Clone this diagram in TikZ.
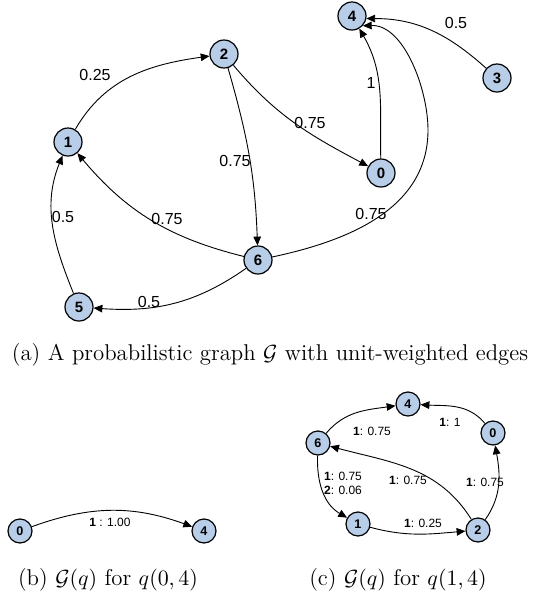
\documentclass[tikz,border=0pt]{standalone}
\usepackage{fontspec}
\newfontfamily\graphfont{Liberation Sans}
\usetikzlibrary{arrows.meta}
\definecolor{vertexblue}{RGB}{183,205,232}
\tikzset{
    prob graph/.style = {x=0.5pt, y=-0.5pt,
                         >={Triangle[length=4.4pt, width=3.8pt]}},
    vertex/.style     = {draw, circle, fill=vertexblue, line width=0.6pt,
                         minimum size=14pt, inner sep=0pt,
                         font=\graphfont\bfseries\fontsize{7.5}{8}\selectfont},
    svertex/.style    = {vertex, minimum size=12pt,
                         font=\graphfont\bfseries\fontsize{6.3}{7}\selectfont},
    edge/.style       = {->, line width=0.45pt},
    weight/.style     = {font=\graphfont\fontsize{8}{9}\selectfont},
    sweight/.style    = {font=\graphfont\fontsize{6}{7}\selectfont,
                         align=left, inner sep=0pt},
    caption/.style    = {font=\fontsize{11.4}{13}\selectfont}
}

\begin{document}
\begin{tikzpicture}[prob graph]
\useasboundingbox (0,0) rectangle (532,601);

% (a) the probabilistic graph
\node[vertex] (n4) at (352,16)  {4};
\node[vertex] (n3) at (497,78)  {3};
\node[vertex] (n2) at (224,54)  {2};
\node[vertex] (n1) at (68,142)  {1};
\node[vertex] (n0) at (381,173) {0};
\node[vertex] (n6) at (258,260) {6};
\node[vertex] (n5) at (79,307)  {5};
\coordinate (bend64) at (428,130);

\draw[edge] (n1) to[out=60, in=188] (n2);
\draw[edge] (n2) to[out=-50, in=152] (n0);
\draw[edge] (n2) to[out=-74, in=92] (n6);
\draw[edge] (n0) to[out=91, in=-60] (n4);
\draw[edge] (n3) to[out=138, in=0] (n4.-10);
\draw[edge] (n6) to[out=12, in=-90] (bend64)
    to[out=90, in=2, looseness=0.85] (n4.-42);
\draw[edge] (n6) to[out=166, in=-50] (n1);
\draw[edge] (n5) to[out=112, in=-112] (n1);
\draw[edge] (n6) to[out=-145, in=-4] (n5);

\node[weight] (w34) at (456,23)  {0.5};
\node[weight] (w12) at (95,75)   {0.25};
\node[weight] (w04) at (371,83)  {1};
\node[weight] (w20) at (310,123) {0.75};
\node[weight] (w26) at (235,161) {0.75};
\node[weight] (w51) at (63,217)  {0.5};
\node[weight] (w61) at (167,219) {0.75};
\node[weight] (w64) at (371,214) {0.75};
\node[weight] (w65) at (149,302) {0.5};

\node[caption] (capa) at (270,355)
    {(a) A probabilistic graph $\mathcal{G}$ with unit-weighted edges};

% (b) query graph for q(0,4)
\node[svertex] (b0) at (20,531)  {0};
\node[svertex] (b4) at (204,531) {4};
\draw[edge] (b0) to[out=20, in=160] (b4);
\node[sweight] (wb) at (110,522) {\textbf{1} : 1.00};
\node[caption] (capb) at (108,580) {(b) $\mathcal{G}(q)$ for $q(0,4)$};

% (c) query graph for q(1,4)
\node[svertex] (c4) at (408,404) {4};
\node[svertex] (c0) at (493,433) {0};
\node[svertex] (c6) at (318,443) {6};
\node[svertex] (c1) at (358,524) {1};
\node[svertex] (c2) at (478,530) {2};

\draw[edge] (c6) to[out=50, in=188] (c4);
\draw[edge] (c0) to[out=130, in=-3] (c4);
\draw[edge] (c6) to[out=-92, in=150] (c1);
\draw[edge] (c1) to[out=-15, in=185] (c2);
\draw[edge] (c2) to[out=122, in=-15] (c6);
\draw[edge] (c2) to[out=55, in=-80] (c0);

\node[sweight] (wc64) at (372,431) {\textbf{1}: 0.75};
\node[sweight] (wc04) at (450,422) {\textbf{1}: 1};
\node[sweight] (wc61) at (343,483) {\textbf{1}: 0.75\\\textbf{2}: 0.06};
\node[sweight] (wc26) at (408,480) {\textbf{1}: 0.75};
\node[sweight] (wc20) at (485,482) {\textbf{1}: 0.75};
\node[sweight] (wc12) at (423,523) {\textbf{1}: 0.25};
\node[caption] (capc) at (398,580) {(c) $\mathcal{G}(q)$ for $q(1,4)$};

\end{tikzpicture}
\end{document}
